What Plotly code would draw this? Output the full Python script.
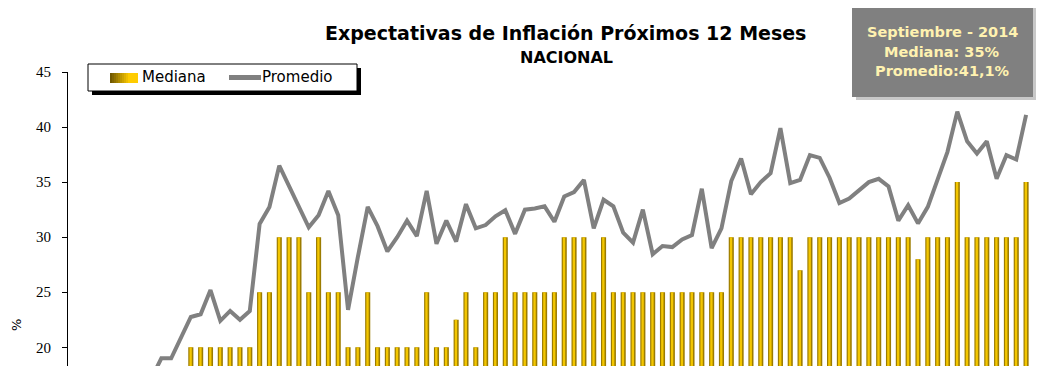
import pandas as pd
import plotly.graph_objects as go

# ---- data -------------------------------------------------------------
months = [d.strftime("%b %Y") for d in pd.date_range("2006-08-01", "2014-09-01", freq="MS")]

promedio = [None, None, None, None, None, None, None, None, 17.2,
            19.0, 19.0, 20.9, 22.75, 23.0, 25.2, 22.4, 23.3, 22.5, 23.3,
            31.2, 32.75, 36.5, 34.7, 32.75, 30.9, 32.0, 34.2, 32.0, 23.4,
            28.2, 32.75, 31.0, 28.7, 30.0, 31.5, 30.1, 34.2, 29.4, 31.5,
            29.6, 33.0, 30.8, 31.1, 31.9, 32.45, 30.3, 32.5, 32.6, 32.8,
            31.4, 33.7, 34.1, 35.2, 30.8, 33.4, 32.8, 30.4, 29.5, 32.5,
            28.45, 29.2, 29.1, 29.8, 30.2, 34.4, 29.0, 30.8, 35.1, 37.15,
            33.9, 35.0, 35.8, 39.9, 34.9, 35.2, 37.45, 37.2, 35.4, 33.1,
            33.5, 34.3, 35.0, 35.3, 34.6, 31.5, 32.9, 31.25, 32.75, 35.25,
            37.75, 41.4, 38.7, 37.6, 38.7, 35.3, 37.45, 37.05, 41.1]

mediana = [None, None, None, None, None, None, None, None, None, None, None, None,
           20, 20, 20, 20, 20, 20, 20, 25, 25, 30, 30, 30, 25, 30, 25, 25, 20, 20,
           25, 20, 20, 20, 20, 20, 25, 20, 20, 22.5, 25, 20, 25, 25, 30, 25, 25, 25,
           25, 25, 30, 30, 30, 25, 30,
           25, 25, 25, 25, 25, 25, 25, 25, 25, 25, 25, 25,
           30, 30, 30, 30, 30, 30, 30, 27,
           30, 30, 30, 30, 30, 30, 30, 30, 30, 30, 30, 28,
           30, 30, 30, 35, 30, 30, 30, 30, 30, 30, 35]

yticks = [20, 25, 30, 35, 40, 45]

title_text = "Expectativas de Inflación Próximos 12 Meses"
subtitle_text = "NACIONAL"
box_lines = ["Septiembre - 2014", "Mediana: 35%", "Promedio:41,1%"]
legend_names = ["Mediana", "Promedio"]

# ---- geometry helpers (screen pixel -> paper) ---------------------------
OFF = 8                      # page body margin of the browser
W, H = 1047 - OFF, 366 - OFF
ML, MR, MT, MB = 68 - OFF, 16, 72 - OFF, 0
PW, PH = W - ML - MR, H - MT - MB


def px(x):
    return (x - OFF - ML) / PW


def py(y):
    return (H - MB - (y - OFF)) / PH


SANS = "DejaVu Sans"
GRAY = "#808080"

fig = go.Figure()

fig.add_trace(go.Bar(x=months, y=mediana, name=legend_names[0], width=0.52,
                     marker=dict(color="#9C7C00", line=dict(width=0)),
                     showlegend=False, hoverinfo="x+y"))
fig.add_trace(go.Bar(x=months, y=mediana, name=legend_names[0], width=0.24, offset=-0.14,
                     marker=dict(color="#F3C600", line=dict(width=0)),
                     showlegend=False, hoverinfo="skip"))
fig.add_trace(go.Scatter(x=months, y=promedio, name=legend_names[1], mode="lines",
                         line=dict(color=GRAY, width=4), connectgaps=False,
                         showlegend=False))

shapes = [
    # legend shadow + box
    dict(type="rect", xref="paper", yref="paper", x0=px(92), x1=px(361), y0=py(95), y1=py(68),
         fillcolor="black", line=dict(width=0), layer="above"),
    dict(type="rect", xref="paper", yref="paper", x0=px(88), x1=px(357), y0=py(91), y1=py(64),
         fillcolor="white", line=dict(color="black", width=1), layer="above"),
    # legend line swatch
    dict(type="line", xref="paper", yref="paper", x0=px(229), x1=px(261), y0=py(77.5), y1=py(77.5),
         line=dict(color=GRAY, width=5), layer="above"),
    # info box shadow + box
    dict(type="rect", xref="paper", yref="paper", x0=px(856), x1=px(1036), y0=py(100), y1=py(7),
         fillcolor="#C8C8C8", line=dict(width=0), layer="above"),
    dict(type="rect", xref="paper", yref="paper", x0=px(852), x1=px(1033), y0=py(97), y1=py(3),
         fillcolor=GRAY, line=dict(width=0), layer="above"),
]

# gradient bar swatch for legend (dark gold -> yellow)
c0, c1 = (0x70, 0x58, 0x00), (0xFF, 0xCC, 0x00)
n = 14
for i in range(n):
    t = min(1.0, i / (n * 0.65))
    col = "rgb({},{},{})".format(*[round(a + (b - a) * t) for a, b in zip(c0, c1)])
    x0 = 110 + i * 2
    shapes.append(dict(type="rect", xref="paper", yref="paper", x0=px(x0), x1=px(x0 + 2),
                       y0=py(83), y1=py(73), fillcolor=col, line=dict(width=0), layer="above"))

annotations = [
    dict(text="<b>" + title_text + "</b>", x=px(565), y=py(33), xref="paper", yref="paper",
         showarrow=False, xanchor="center", yanchor="middle",
         font=dict(family=SANS, size=19, color="black")),
    dict(text="<b>" + subtitle_text + "</b>", x=px(566), y=py(57), xref="paper", yref="paper",
         showarrow=False, xanchor="center", yanchor="middle",
         font=dict(family=SANS, size=16, color="black")),
    dict(text="%", x=px(16), y=py(325), xref="paper", yref="paper", textangle=-90,
         showarrow=False, xanchor="center", yanchor="middle", borderpad=0,
         font=dict(family=SANS, size=13, color="black")),
    dict(text=legend_names[0], x=px(140), y=py(77.5), xref="paper", yref="paper",
         showarrow=False, xanchor="left", yanchor="middle",
         font=dict(family=SANS, size=15, color="black")),
    dict(text=legend_names[1], x=px(260), y=py(77.5), xref="paper", yref="paper",
         showarrow=False, xanchor="left", yanchor="middle",
         font=dict(family=SANS, size=15, color="black")),
]
for t, yy in zip(box_lines, [32, 52, 71]):
    annotations.append(dict(text="<b>" + t + "</b>", x=px(942), y=py(yy), xref="paper", yref="paper",
                            showarrow=False, xanchor="center", yanchor="middle",
                            font=dict(family=SANS, size=14.5, color="#FFF2B0")))

fig.update_layout(
    width=W, height=H,
    margin=dict(l=ML, r=MR, t=MT, b=MB, autoexpand=False),
    paper_bgcolor="white", plot_bgcolor="white",
    barmode="overlay",
    showlegend=False,
    xaxis=dict(type="category", visible=False, range=[-0.5, len(months) - 0.5]),
    yaxis=dict(range=[18.3, 45], tickvals=yticks, showgrid=False, zeroline=False,
               showline=True, linecolor="black", linewidth=1,
               ticks="outside", ticklen=5, tickcolor="black", ticklabelstandoff=8,
               tickfont=dict(family="Liberation Serif", size=15, color="black")),
    shapes=shapes,
    annotations=annotations,
)

fig.write_html("out.html")
